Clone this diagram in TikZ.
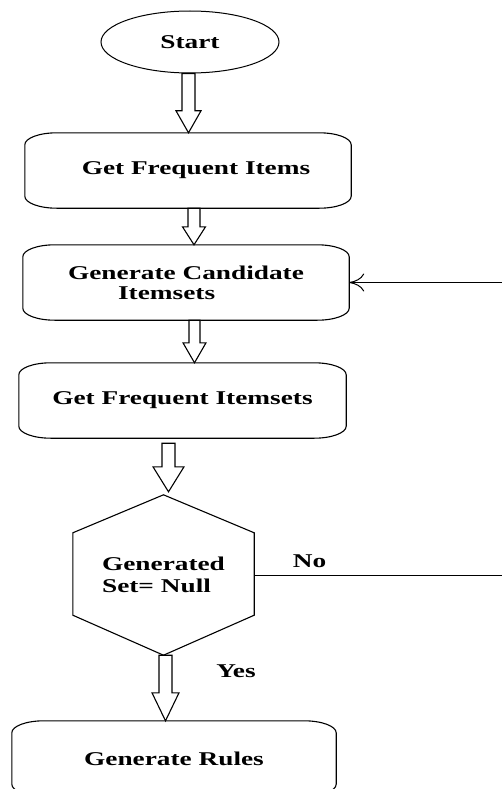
\documentclass[tikz,border=0pt]{standalone}
\usepackage{fontspec}
\usetikzlibrary{shapes.geometric,calc,arrows.meta}
\newfontfamily\wideserif[FakeStretch=1.4]{Liberation Serif}

% outline of a process box with flattened elliptical corners
\newcommand\roundedoutline[1]{%
  \draw[outline] ([xshift=32pt]#1.north west) -- ([xshift=-32pt]#1.north east)
    arc[start angle=90,end angle=0,x radius=32pt,y radius=12pt]
    -- ([yshift=12pt]#1.south east)
    arc[start angle=0,end angle=-90,x radius=32pt,y radius=12pt]
    -- ([xshift=32pt]#1.south west)
    arc[start angle=270,end angle=180,x radius=32pt,y radius=12pt]
    -- ([yshift=-12pt]#1.north west)
    arc[start angle=180,end angle=90,x radius=32pt,y radius=12pt];}

% hollow block arrow: from, tip, shaft half width, head half width, head length
\newcommand\hollowarrow[5]{%
  \draw[arrowbody] let \p1=(#1), \p2=(#2) in
    (\x1-#3pt,\y1) -- (\x1-#3pt,\y2+#5pt) -- (\x1-#4pt,\y2+#5pt) -- (\x1,\y2)
    -- (\x1+#4pt,\y2+#5pt) -- (\x1+#3pt,\y2+#5pt) -- (\x1+#3pt,\y1) -- cycle;}

\begin{document}
\begin{tikzpicture}[x=1pt,y=1pt,
  txt/.style={font=\wideserif\bfseries\fontsize{19.5}{20}\selectfont, text=black},
  outline/.style={line width=1.1pt},
  arrowbody/.style={draw, fill=white, line width=1.1pt, line join=miter},
  thinline/.style={line width=1pt},
  startnode/.style={txt, ellipse, draw, line width=1pt, minimum width=178pt, minimum height=62pt, inner sep=0pt},
  procbox/.style={txt, rectangle, inner sep=0pt, minimum height=75pt, minimum width=#1},
  decbox/.style={txt, rectangle, inner sep=0pt, minimum width=181pt, minimum height=160pt, align=left},
  lbl/.style={txt, inner sep=0pt}]
\useasboundingbox (0,0) rectangle (502,-789);
\clip (0,0) rectangle (502,-789);

% nodes
\node[startnode] (start) at (190,-42) {Start};
\node[procbox=326pt] (b1) at (188,-170.5) {\hspace*{16pt}Get Frequent Items};
\node[procbox=326pt, align=left] (b2) at (186,-282.5) {Generate Candidate\\\hspace*{50pt}Itemsets};
\node[procbox=327pt] (b3) at (182.5,-400.5) {Get Frequent Itemsets};
\node[decbox, font=\wideserif\bfseries\fontsize{19.5}{22}\selectfont] (dec) at (163.5,-575) {Generated\\Set= Null};
\node[procbox=324pt] (b5) at (174,-758.5) {Generate Rules};

% outlines
\roundedoutline{b1}
\roundedoutline{b2}
\roundedoutline{b3}
\roundedoutline{b5}
\draw[outline] (dec.north) -- ($(dec.north east)+(0,-38)$) -- ($(dec.south east)+(0,40)$)
  -- (dec.south) -- ($(dec.south west)+(0,40)$) -- ($(dec.north west)+(0,-38)$) -- cycle;

% block arrows
\hollowarrow{[xshift=-1.5pt]start.south}{b1.north}{6.5}{12.5}{22}
\hollowarrow{[xshift=6pt]b1.south}{b2.north}{6}{11.5}{18}
\hollowarrow{[xshift=8.5pt]b2.south}{b3.north}{5.5}{11.5}{20}
\hollowarrow{[xshift=-14pt,yshift=-5pt]b3.south}{[yshift=3pt]dec.north}{6.5}{15.5}{25}
\hollowarrow{[xshift=2pt]dec.south}{b5.north}{6.5}{13.5}{28}

% loop back for the "No" branch
\coordinate (loopR) at (504,-575);
\draw[thinline, -{Computer Modern Rightarrow[length=15pt,width=18pt]}]
  (dec.east) -- (loopR) |- (b2.east);

% branch labels
\node[lbl] (no) at (309.5,-561) {No};
\node[lbl] (yes) at (236,-671) {Yes};
\end{tikzpicture}
\end{document}
